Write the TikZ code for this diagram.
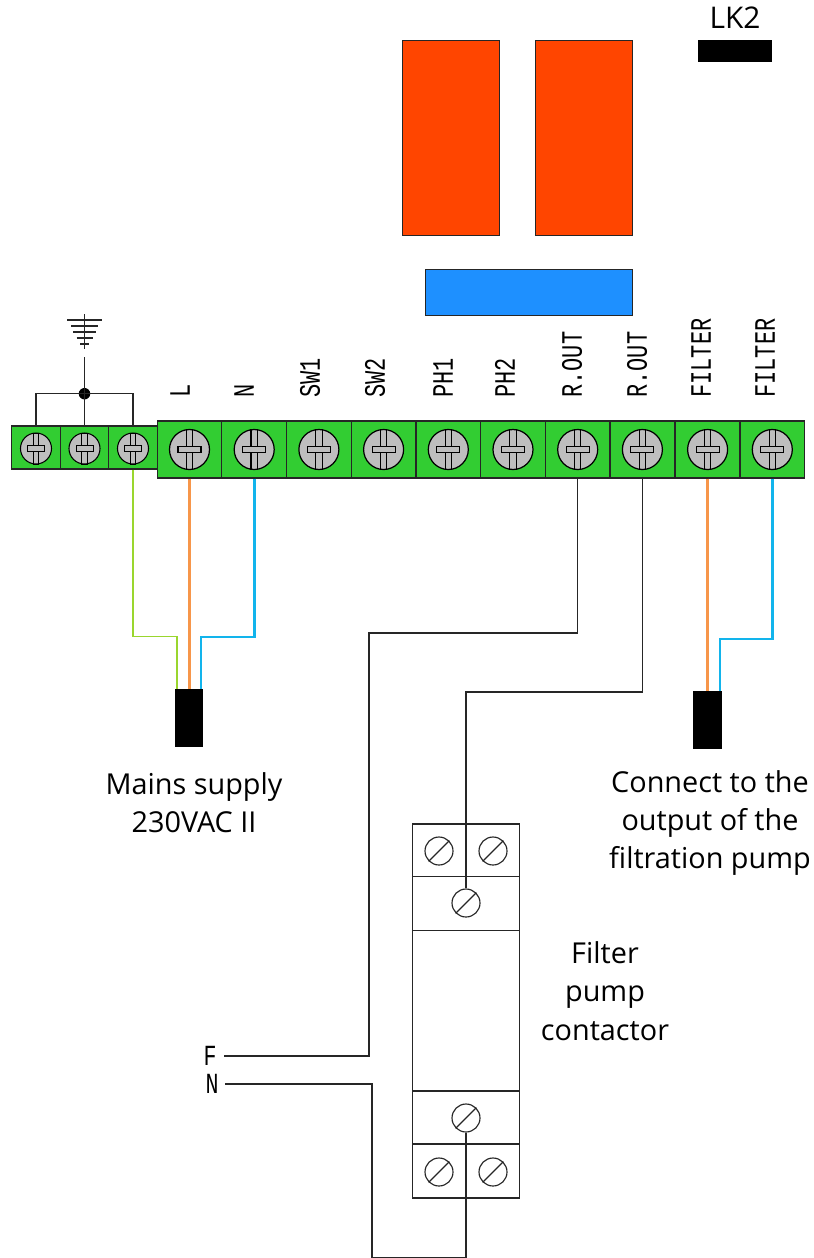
\documentclass[tikz,border=0pt]{standalone}
\usepackage{fontspec}
\setmainfont{Open Sans}
\newfontfamily\tagfont{Liberation Mono}
\usetikzlibrary{calc, positioning}

\definecolor{termgreen}{HTML}{32CD32}
\definecolor{screwgray}{HTML}{BEBEBE}
\definecolor{relayorange}{HTML}{FF4500}
\definecolor{capblue}{HTML}{1E90FF}
\definecolor{wirebrown}{HTML}{F7964A}
\definecolor{wireblue}{HTML}{12B4EC}
\definecolor{wireearth}{HTML}{9AD62E}
\definecolor{linegray}{HTML}{262626}

\tikzset{
	bigterm/.style={draw=linegray, line width=.7pt, fill=termgreen, minimum width=1.294cm, minimum height=1.14cm, inner sep=0},
	smallterm/.style={draw=linegray, line width=.7pt, fill=termgreen, minimum width=.97cm, minimum height=.86cm, inner sep=0},
	plug/.style={fill=black, minimum width=.57cm, minimum height=1.16cm, inner sep=0},
	relay/.style={draw=linegray, line width=.5pt, fill=relayorange, minimum width=1.94cm, minimum height=3.9cm, inner sep=0},
	dinscrew/.style={circle, draw=linegray, line width=.65pt, minimum size=.56cm, inner sep=0},
	dinbox/.style={draw=linegray, line width=.7pt, minimum width=2.14cm, inner sep=0},
	tag/.style={rotate=90, anchor=west, inner sep=0, font=\tagfont\fontsize{12.5}{12.5}\selectfont},
	note/.style={align=center, inner sep=0, font=\fontsize{16.4}{21.8}\selectfont},
	wire/.style={line width=.7pt, linegray},
	livewire/.style={line width=1.4pt, wirebrown},
	neutralwire/.style={line width=1.6pt, wireblue},
	earthwire/.style={line width=1pt, wireearth}
}

\begin{document}
\begin{tikzpicture}[x=.02cm, y=-.02cm]
	\useasboundingbox (0,0) rectangle (814,1258);

	% relays, capacitor, link
	\node[relay] (relayA) at (451,137.5) {};
	\node[relay] (relayB) at (584,137.5) {};
	\node[draw=linegray, line width=.5pt, fill=capblue, minimum width=4.14cm, minimum height=.92cm, inner sep=0] (cap) at (528.5,292) {};
	\node[fill=black, minimum width=1.48cm, minimum height=.44cm, inner sep=0] (linkLK) at (735,51) {};
	\node[inner sep=0, font=\fontsize{17}{17}\selectfont] (linkLabel) at (735,18) {LK2};

	% small terminals
	\foreach \i/\x in {1/36, 2/84.5, 3/133} {
		\node[smallterm] (earth\i) at (\x,447.5) {};
		\begin{scope}[shift={(\x,448.5)}]
			\draw[line width=.6pt, fill=screwgray] (0,0) circle (15.5);
			\draw[line width=.5pt] (-2.6,-15.5) rectangle (2.6,15.5);
			\draw[line width=.5pt, fill=screwgray] (-8.5,-2.6) rectangle (8.5,2.6);
		\end{scope}
	}

	% big terminals
	\foreach \i/\x in {1/189.5, 2/254.2, 3/318.9, 4/383.6, 5/448.3, 6/513, 7/577.7, 8/642.4, 9/707.6, 10/772.3} {
		\node[bigterm] (term\i) at (\x,449.5) {};
		\begin{scope}[shift={(\x,449.5)}]
			\draw[line width=.7pt, fill=screwgray] (0,0) circle (20);
			\draw[line width=.6pt] (-3.2,-20) rectangle (3.2,20);
			\draw[line width=.6pt, fill=screwgray] (-11.5,-3.2) rectangle (11.5,3.2);
		\end{scope}
	}

	% terminal names
	\foreach \i/\x/\t in {1/180/L, 2/244/N, 3/310/SW1, 4/375/SW2, 5/443/PH1, 6/505/PH2, 7/572/R.OUT, 8/637/R.OUT, 9/701/FILTER, 10/765/FILTER} {
		\node[tag] (tag\i) at (\x,398) {\scalebox{1}[1.35]{\t}};
	}

	% earth symbol
	\coordinate (earthTop) at (84.5,314);
	\coordinate (earthFoot) at (84.5,349);
	\coordinate (earthLead) at (84.5,357);
	\draw[wire] (earthTop) -- (earthFoot);
	\foreach \y/\w in {320/17.5, 326/13.5, 332/11.5, 338/8, 344/4.5} {
		\draw[wire] (84.5-\w,\y) -- (84.5+\w,\y);
	}
	\node[circle, fill=black, minimum size=.23cm, inner sep=0] (earthDot) at (84.5,393.7) {};
	\draw[wire] (earthLead) -- (earth2.north);
	\draw[wire] (earth1.north) |- (earthDot.center) -| (earth3.north);

	% plugs
	\node[plug] (plugMains) at (189,718) {};
	\node[plug] (plugPump) at (707.5,720) {};
	\coordinate (plugMainsE) at (177,689);
	\coordinate (plugMainsN) at (201,689);
	\coordinate (plugPumpN) at (720,691);

	% mains and pump wires
	\draw[earthwire] (earth3.south) |- (155,636.5) -| (plugMainsE);
	\draw[livewire] (term1.south) -- (term1.south |- plugMains.north);
	\draw[neutralwire] (term2.south) |- (228,637) -| (plugMainsN);
	\draw[livewire] (term9.south) -- (term9.south |- plugPump.north);
	\draw[neutralwire] (term10.south) |- (745,639) -| (plugPumpN);

	% contactor
	\node[dinbox, minimum height=7.48cm] (din) at (466,1011) {};
	\foreach \y in {876.7, 930.7, 1091, 1144} {
		\draw[wire] (din.west |- 0,\y) -- (din.east |- 0,\y);
	}
	\foreach \n/\x/\y in {a/439/851, b/493/851, c/466/903, d/466/1118, e/439/1172, f/493/1172} {
		\node[dinscrew] (din\n) at (\x,\y) {};
		\draw[wire] (din\n.45) -- (din\n.225);
	}

	% contactor wires
	\coordinate (lineF) at (224,1056);
	\coordinate (lineN) at (225,1084);
	\coordinate (loopCorner) at (372,1257.5);
	\draw[wire] (term7.south) |- (369,633) |- (lineF);
	\draw[wire] (term8.south) |- (466,692) -- (dinc.north);
	\draw[wire] (lineN) -| (loopCorner) -| (dind.south);

	\node[inner sep=0, font=\tagfont\fontsize{12.3}{12.3}\selectfont] (labelF) at (210,1056) {\scalebox{1}[1.35]{F}};
	\node[inner sep=0, font=\tagfont\fontsize{12.3}{12.3}\selectfont] (labelN) at (212,1084) {\scalebox{1}[1.35]{N}};

	% captions
	\node[note] (noteMains) at (194,802.5) {Mains supply\\230VAC II};
	\node[note] (notePump) at (710,823) {Connect to the\\output of the\\filtration pump};
	\node[note] (noteContactor) at (605,991) {Filter\\pump\\contactor};
\end{tikzpicture}
\end{document}
